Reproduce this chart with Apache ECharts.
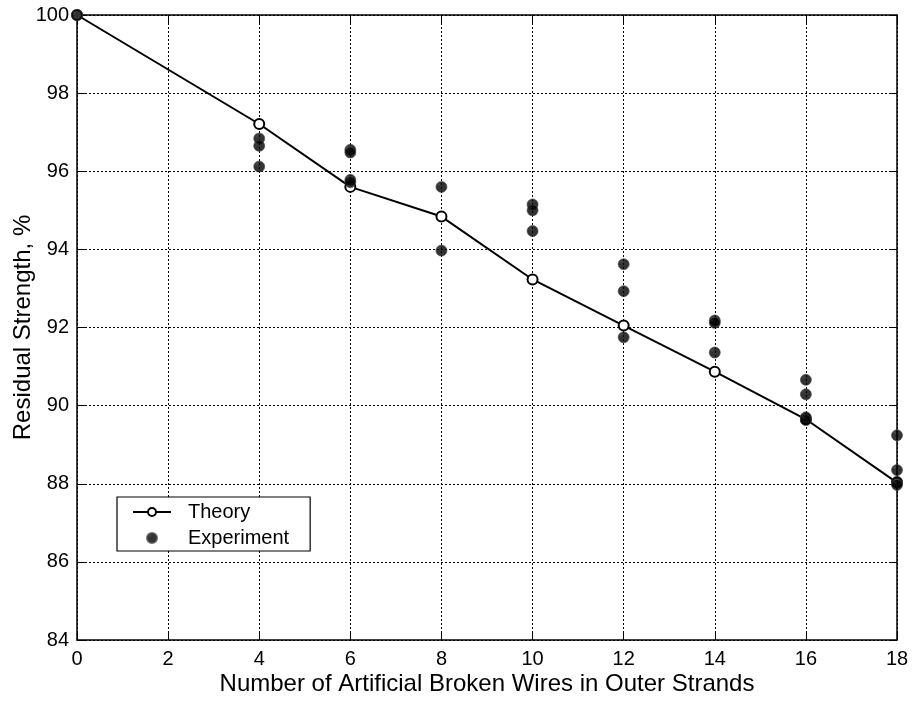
<!DOCTYPE html>
<html>
<head>
<meta charset="utf-8">
<script src="https://cdn.jsdelivr.net/npm/echarts@6/dist/echarts.min.js"></script>
<style>
  html, body { margin: 0; padding: 0; background: #fff; }
  #chart { width: 912px; height: 704px; }
</style>
</head>
<body>
<div id="chart"></div>
<script>
// Number of broken wires (x) and predicted residual strength, %
const theoryX = [0, 4, 6, 8, 10, 12, 14, 16, 18];
const theoryY = [100, 97.21, 95.6, 94.84, 93.23, 92.05, 90.87, 89.65, 88.03];

// Measured residual strength, grouped by number of broken wires
const expX = [0, 4, 4, 4, 6, 6, 6, 6, 8, 8, 10, 10, 10, 12, 12, 12, 14, 14, 14, 16, 16, 16, 16, 18, 18, 18, 18];
const expY = [100, 96.84, 96.65, 96.12, 96.55, 96.48, 95.78, 95.72, 95.6, 93.97, 95.15, 95.0, 94.47,
              93.62, 92.93, 91.75, 92.18, 92.12, 91.36, 90.66, 90.29, 89.7, 89.63, 89.24, 88.35, 88.05, 87.97];

const xTicks = { min: 0, max: 18, interval: 2 };
const yTicks = { min: 84, max: 100, interval: 2 };

const xTitle = 'Number of Artificial Broken Wires in Outer Strands';
const yTitle = 'Residual Strength, %';
const seriesNames = ['Theory', 'Experiment'];

const font = 'Liberation Sans, Arial, Helvetica, sans-serif';

const chart = echarts.init(document.getElementById('chart'), null, { renderer: 'canvas' });

const gridLine = { show: true, lineStyle: { color: '#000', width: 1, type: [2, 2] } };
const frameLine = { show: true, onZero: false, lineStyle: { color: '#000', width: 1.5 } };
const innerTick = { show: true, inside: true, length: 8, lineStyle: { color: '#000', width: 1 } };

const toPairs = (xs, ys) => xs.map((x, i) => [x, ys[i]]);

chart.setOption({
  animation: false,
  backgroundColor: '#fff',
  grid: { left: 77, right: 15, top: 15, bottom: 64, containLabel: false, outerBoundsMode: 'none' },
  xAxis: [
    {
      type: 'value', position: 'bottom',
      min: xTicks.min, max: xTicks.max, interval: xTicks.interval,
      axisLine: frameLine, axisTick: innerTick, splitLine: gridLine,
      axisLabel: { color: '#000', fontSize: 20, fontFamily: font, margin: 9 },
      name: xTitle, nameLocation: 'middle', nameGap: 32, nameMoveOverlap: false,
      nameTextStyle: { color: '#000', fontSize: 24, fontFamily: font }
    },
    {
      type: 'value', position: 'top',
      min: xTicks.min, max: xTicks.max, interval: xTicks.interval,
      axisLine: frameLine, axisTick: innerTick, splitLine: { show: false },
      axisLabel: { show: false }
    }
  ],
  yAxis: [
    {
      type: 'value', position: 'left',
      min: yTicks.min, max: yTicks.max, interval: yTicks.interval,
      axisLine: frameLine, axisTick: innerTick, splitLine: gridLine,
      axisLabel: { color: '#000', fontSize: 20, fontFamily: font, margin: 8 },
      name: yTitle, nameLocation: 'middle', nameGap: 42, nameMoveOverlap: false,
      nameTextStyle: { color: '#000', fontSize: 24, fontFamily: font }
    },
    {
      type: 'value', position: 'right',
      min: yTicks.min, max: yTicks.max, interval: yTicks.interval,
      axisLine: frameLine, axisTick: innerTick, splitLine: { show: false },
      axisLabel: { show: false }
    }
  ],
  legend: {
    orient: 'vertical',
    left: 117, top: 497,
    padding: [5, 21, 3, 15],
    itemGap: 6,
    itemWidth: 38, itemHeight: 10,
    backgroundColor: '#fff',
    borderColor: '#000', borderWidth: 1.2, borderRadius: 0,
    textStyle: { color: '#000', fontSize: 20, fontFamily: font, padding: [0, 0, 0, 12] },
    data: seriesNames
  },
  series: [
    {
      name: seriesNames[0],
      type: 'line',
      data: toPairs(theoryX, theoryY),
      symbol: 'circle', symbolSize: 10,
      showAllSymbol: true,
      clip: false,
      lineStyle: { color: '#000', width: 2 },
      itemStyle: { color: '#fff', borderColor: '#000', borderWidth: 2 },
      z: 3
    },
    {
      name: seriesNames[1],
      type: 'scatter',
      data: toPairs(expX, expY),
      symbol: 'circle', symbolSize: 11,
      clip: false,
      itemStyle: {
        color: {
          type: 'radial', x: 0.3, y: 0.28, r: 0.45,
          colorStops: [{ offset: 0, color: '#1e1e1e' }, { offset: 0.4, color: '#000' }, { offset: 1, color: '#000' }]
        },
        borderColor: '#4a4a4a', borderWidth: 0.8
      },
      z: 4
    }
  ]
});
</script>
</body>
</html>
